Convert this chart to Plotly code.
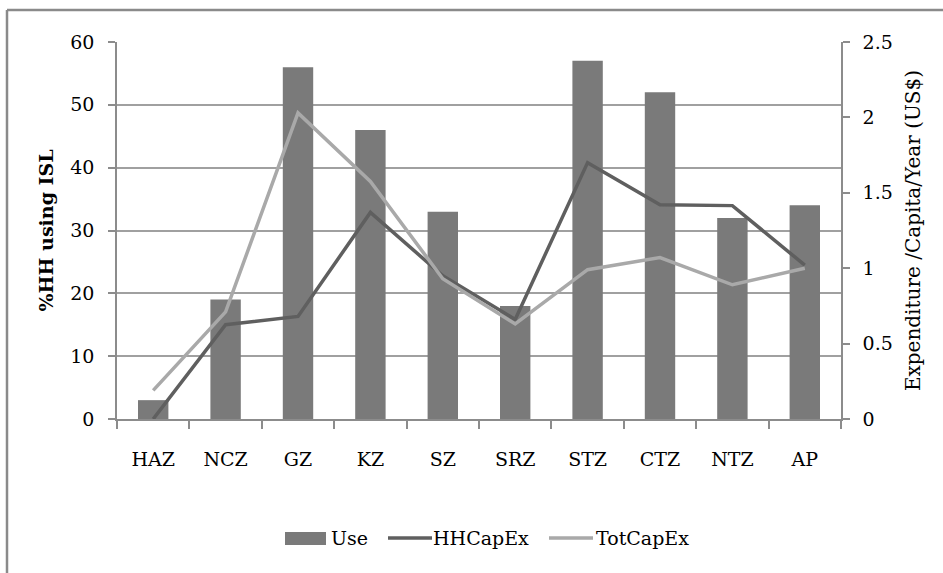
import plotly.graph_objects as go

categories = ["HAZ", "NCZ", "GZ", "KZ", "SZ", "SRZ", "STZ", "CTZ", "NTZ", "AP"]
use = [3, 19, 56, 46, 33, 18, 57, 52, 32, 34]
hh_capex = [0.0, 0.625, 0.68, 1.37, 0.95, 0.66, 1.70, 1.42, 1.415, 1.02]
tot_capex = [0.19, 0.71, 2.03, 1.575, 0.93, 0.63, 0.99, 1.07, 0.89, 1.0]

W, H = 943, 573
L, R, T, B = 117, 102, 42, 154
pw, ph = W - L - R, H - T - B

FAM = "DejaVu Serif"
FS = 19

def F(size=FS):
    return dict(family=FAM, size=size, color="black")

BAR_C, HH_C, TOT_C = "#7a7a7a", "#5f5f5f", "#a9a9a9"

fig = go.Figure()
fig.add_trace(go.Bar(x=categories, y=use, name="Use", marker=dict(color=BAR_C, line=dict(width=0)),
                     yaxis="y", showlegend=False))
fig.add_trace(go.Scatter(x=categories, y=hh_capex, name="HHCapEx", mode="lines",
                         line=dict(color=HH_C, width=3.5), yaxis="y2", showlegend=False))
fig.add_trace(go.Scatter(x=categories, y=tot_capex, name="TotCapEx", mode="lines",
                         line=dict(color=TOT_C, width=3.5), yaxis="y2", showlegend=False))

fig.update_layout(
    width=W, height=H,
    margin=dict(l=L, r=R, t=T, b=B, autoexpand=False),
    paper_bgcolor="white", plot_bgcolor="white",
    bargap=0.58,
    xaxis=dict(showline=True, linecolor="#8c8c8c", linewidth=1.5, ticks="outside",
               tickson="boundaries", ticklen=8, tickcolor="#8c8c8c", tickwidth=1.5,
               ticklabelstandoff=22, showgrid=False, tickfont=F()),
    yaxis=dict(range=[0, 60], dtick=10, showline=True, linecolor="#8c8c8c", linewidth=1.5,
               ticks="outside", ticklen=7, tickcolor="#8c8c8c", tickwidth=1.5,
               showgrid=True, gridcolor="#a0a0a0", gridwidth=1.5, zeroline=False,
               ticklabelstandoff=10, tickfont=F(),
               title=dict(text="<b>%HH using ISL</b>", font=F(19), standoff=12)),
    yaxis2=dict(range=[0, 2.5], dtick=0.5, overlaying="y", side="right", showline=True,
                linecolor="#8c8c8c", linewidth=1.5, ticks="outside", ticklen=7,
                tickcolor="#8c8c8c", tickwidth=1.5, showgrid=False, zeroline=False,
                ticklabelstandoff=9, tickfont=F(),
                title=dict(text="Expenditure /Capita/Year (US$)", font=F(20), standoff=14)),
)

def px(x):
    return (x - L) / pw

def py(y):
    return (T + ph - y) / ph

# outer chart border (left and top edges visible)
fig.add_shape(type="line", xref="paper", yref="paper", x0=px(7), x1=px(7), y0=py(10), y1=py(H + 5),
              line=dict(color="#8a8a8a", width=2.5))
fig.add_shape(type="line", xref="paper", yref="paper", x0=px(7), x1=px(W + 5), y0=py(10), y1=py(10),
              line=dict(color="#8a8a8a", width=2.5))

# legend
LY = 538
fig.add_shape(type="rect", xref="paper", yref="paper", x0=px(285), x1=px(326), y0=py(545), y1=py(532),
              fillcolor=BAR_C, line=dict(width=0))
fig.add_annotation(xref="paper", yref="paper", x=px(329), y=py(LY), text="Use", showarrow=False,
                   xanchor="left", yanchor="middle", font=F())
fig.add_shape(type="line", xref="paper", yref="paper", x0=px(388), x1=px(432), y0=py(LY), y1=py(LY),
              line=dict(color=HH_C, width=3.5))
fig.add_annotation(xref="paper", yref="paper", x=px(431), y=py(LY), text="HHCapEx", showarrow=False,
                   xanchor="left", yanchor="middle", font=F())
fig.add_shape(type="line", xref="paper", yref="paper", x0=px(549), x1=px(593), y0=py(LY), y1=py(LY),
              line=dict(color=TOT_C, width=3.5))
fig.add_annotation(xref="paper", yref="paper", x=px(594), y=py(LY), text="TotCapEx", showarrow=False,
                   xanchor="left", yanchor="middle", font=F())

fig.write_html("out.html")
